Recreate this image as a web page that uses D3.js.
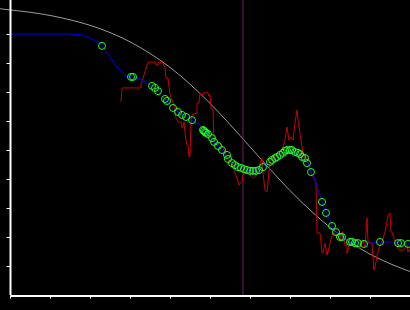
<!DOCTYPE html>
<html>
<head>
<meta charset="utf-8">
<script src="https://cdn.jsdelivr.net/npm/d3@7"></script>
<style>
  html, body { margin: 0; padding: 0; background: #000; }
  svg { display: block; }
</style>
</head>
<body>
<div id="dataviz"></div>
<script>
const margin = { top: 0, right: 0, bottom: 15, left: 10 },
    width = 410 - margin.left - margin.right,
    height = 310 - margin.top - margin.bottom;

// tick positions (the chart shows no tick labels)
const xTickValues = [0, 10, 20, 30, 40, 50, 60, 70, 80, 90, 100];
const yTickValues = [1, 2, 3, 4, 5, 6, 7, 8, 9];

// gray reference curve
const refX = [-2.5, 0, 5, 10, 15, 20, 25, 30, 35, 40, 45, 50, 55, 60, 65, 70, 75, 80, 85, 90, 95, 100];
const refY = [9.87, 9.83, 9.75, 9.64, 9.49, 9.30, 9.05, 8.73, 8.33, 7.85, 7.27, 6.61, 5.88, 5.11, 4.34, 3.60, 2.93, 2.33, 1.82, 1.41, 1.08, 0.81];

// raw measurement (red)
const rawX = [27.75, 28, 32.5, 33.25, 34.5, 36.25, 36.5, 37, 37, 38.25, 38.75, 39, 39.5, 40, 40.5, 41, 41.5, 42, 42.75, 43,
    43.25, 43.5, 43.75, 44, 44.25, 44.5, 44.75, 45, 45.25, 45.5, 46.75, 46.75, 47.25, 47.5, 48, 48.25, 49.5, 49.75, 50, 50.25,
    50.75, 51, 51.5, 52.5, 53.75, 54.5, 55.5, 55.75, 56.75, 57.25, 58, 58.25, 59.25, 60, 60.75, 61.75, 62.5, 63, 63.25, 63.75,
    64.25, 64.5, 64.75, 65.25, 65.75, 66.75, 68, 68.75, 69.25, 69.75, 70.25, 70.75, 71.25, 71.75, 72, 72.5, 73, 73.25, 74.25, 75,
    75.5, 76.25, 76.5, 76.75, 77.5, 78, 78.25, 78.75, 79.25, 79.5, 80, 80.75, 81.75, 82.5, 83, 83.25, 83.75, 84.25, 84.25, 85,
    86.25, 87.5, 88.25, 88.75, 89.25, 89.5, 90.5, 90.75, 91, 91.5, 91.75, 92.5, 93, 93.75, 94.25, 94.5, 95, 95.25, 95.5, 96.25,
    97.25, 98.25, 99.25, 99.5, 100];
const rawY = [6.66, 7.14, 7.14, 7.48, 8.03, 8.03, 7.93, 7.93, 8.03, 8.00, 7.83, 7.48, 7.48, 6.90, 6.72, 6.55, 6.10, 5.97, 5.97, 5.76,
    5.79, 5.97, 5.59, 5.34, 5.17, 5.17, 4.76, 4.79, 5.93, 6.21, 6.28, 6.62, 6.62, 6.97, 6.86, 6.97, 6.97, 6.86, 6.90, 6.48,
    6.38, 5.24, 5.17, 5.24, 4.93, 4.66, 4.55, 4.41, 4.03, 3.79, 3.90, 4.14, 4.24, 4.14, 4.03, 4.14, 4.55, 4.72, 4.21, 3.62,
    3.55, 3.86, 4.31, 4.66, 4.72, 4.90, 5.00, 5.34, 5.79, 5.34, 5.45, 5.34, 5.93, 6.38, 6.03, 5.59, 5.10, 4.83, 4.72, 4.31,
    4.14, 3.97, 3.86, 2.14, 2.14, 1.45, 1.45, 1.79, 1.38, 1.48, 1.79, 2.14, 2.07, 1.90, 2.17, 2.17, 1.72, 1.72, 1.45, 1.79,
    1.66, 1.62, 1.90, 1.66, 2.66, 1.83, 1.79, 1.28, 0.86, 1.14, 1.38, 1.72, 1.83, 2.17, 2.52, 2.76, 2.83, 2.17, 2.17, 1.83,
    1.55, 1.55, 1.72, 1.48, 1.62];

// smoothed estimate (blue)
const fitX = [0, 15.5, 18, 20, 22.5, 23, 25, 26.75, 28.75, 30.25, 32.5, 35.5, 37, 38.75, 40.75, 42, 44, 45.5, 47.5, 49.5,
    51, 53, 54.5, 56.25, 58, 60, 62, 63.25, 65, 66.75, 68.25, 70, 71.25, 72.5, 73.75, 74.5, 75.25, 76.25, 77, 78,
    79, 80, 80.5, 81.75, 83, 85, 87, 88.5, 90, 92.5, 95.75, 97.5, 99.5, 100];
const fitY = [9.00, 9.00, 8.97, 8.86, 8.69, 8.59, 8.21, 7.86, 7.55, 7.52, 7.45, 7.21, 7.03, 6.76, 6.45, 6.31, 6.14, 6.03, 5.86, 5.55,
    5.28, 5.00, 4.69, 4.48, 4.34, 4.28, 4.28, 4.41, 4.59, 4.76, 4.90, 5.00, 4.93, 4.86, 4.72, 4.55, 4.24, 3.97, 3.62, 3.21,
    2.83, 2.59, 2.38, 2.14, 2.00, 1.83, 1.79, 1.76, 1.79, 1.83, 1.83, 1.79, 1.76, 1.76];

// samples (green circles)
const sampleX = [23, 30.25, 30.75, 35.5, 36.25, 37, 38.75, 39.25, 40.75, 42, 43, 44, 45.5, 48.25, 48.5, 48.75, 49, 49.5, 50.5, 51,
    52, 53, 54.25, 54.5, 55.5, 56.25, 57, 57.75, 58.5, 59.25, 60, 60.75, 61.5, 62.25, 63.25, 65, 65.5, 66.25, 66.75, 67.5,
    68.25, 68.75, 69.25, 70, 70.5, 71.25, 72, 72.5, 73, 73.75, 74.25, 75.25, 78, 79, 80.5, 81.5, 82.5, 83, 85, 85.5,
    86.25, 87, 88.5, 92.5, 97, 97.75, 99.5];
const sampleY = [8.59, 7.52, 7.52, 7.21, 7.14, 7.03, 6.76, 6.69, 6.45, 6.31, 6.21, 6.14, 6.03, 5.69, 5.66, 5.62, 5.59, 5.55, 5.41, 5.28,
    5.14, 5.00, 4.83, 4.69, 4.55, 4.48, 4.41, 4.38, 4.34, 4.31, 4.28, 4.28, 4.28, 4.31, 4.41, 4.59, 4.66, 4.72, 4.76, 4.83,
    4.90, 4.97, 5.00, 5.00, 5.00, 4.93, 4.90, 4.86, 4.76, 4.72, 4.55, 4.24, 3.21, 2.83, 2.38, 2.17, 2.00, 2.00, 1.83, 1.83,
    1.79, 1.79, 1.76, 1.83, 1.79, 1.79, 1.76];

// vertical marker
const markerX = 58.25;

const svg = d3.select("#dataviz")
    .append("svg")
    .attr("width", width + margin.left + margin.right)
    .attr("height", height + margin.top + margin.bottom)
    .style("background", "#000")
    .append("g")
    .attr("transform", `translate(${margin.left}, ${margin.top})`);

const x = d3.scaleLinear()
    .domain([0, 100])
    .range([0, width]);

const y = d3.scaleLinear()
    .domain([0, 9])
    .range([height, height - 9 * 29]);

const zip = (xs, ys) => xs.map((v, i) => [v, ys[i]]);
const line = d3.line()
    .x(d => x(d[0]))
    .y(d => y(d[1]));

// gray curve
svg.append("path")
    .datum(zip(refX, refY))
    .attr("fill", "none")
    .attr("stroke", "#9a9a9a")
    .attr("stroke-width", 1)
    .attr("d", line.curve(d3.curveMonotoneX));

line.curve(d3.curveLinear);

// marker line
svg.append("line")
    .attr("x1", x(markerX)).attr("x2", x(markerX))
    .attr("y1", 0).attr("y2", height)
    .attr("stroke", "#6a1e6a")
    .attr("stroke-width", 1);

// raw data
svg.append("path")
    .datum(zip(rawX, rawY))
    .attr("fill", "none")
    .attr("stroke", "#cc0000")
    .attr("stroke-width", 1)
    .attr("d", line);

// fit
svg.append("path")
    .datum(zip(fitX, fitY))
    .attr("fill", "none")
    .attr("stroke", "#0000ff")
    .attr("stroke-width", 1)
    .attr("d", line);

// samples
svg.selectAll("circle.sample")
    .data(zip(sampleX, sampleY))
    .join("circle")
    .attr("class", "sample")
    .attr("cx", d => x(d[0]))
    .attr("cy", d => y(d[1]))
    .attr("r", 3.5)
    .attr("fill", "none")
    .attr("stroke", "#22ff22")
    .attr("stroke-width", 1);

// axes
const xAxis = svg.append("g")
    .attr("transform", `translate(0, ${height + 0.5})`)
    .call(d3.axisBottom(x).tickValues(xTickValues).tickSize(3).tickSizeOuter(0).tickFormat(""));
const yAxis = svg.append("g")
    .attr("transform", "translate(0.5, 0)")
    .call(d3.axisLeft(y).tickValues(yTickValues).tickSize(4).tickSizeOuter(0).tickFormat(""));

yAxis.select(".domain").attr("d", `M0,0V${height}`);
svg.selectAll(".domain").attr("stroke", "#fff").attr("stroke-width", 2);
svg.selectAll(".tick line").attr("stroke", "#fff");
</script>
</body>
</html>
